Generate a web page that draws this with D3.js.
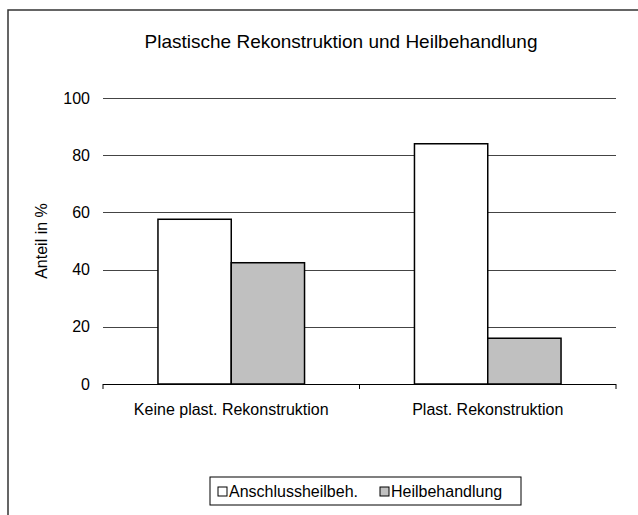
<!DOCTYPE html>
<html>
<head>
<meta charset="utf-8">
<script src="https://cdn.jsdelivr.net/npm/d3@7"></script>
<style>
  body { margin: 0; background: #fff; }
  svg { display: block; font-family: "Liberation Sans", Arial, sans-serif; }
</style>
</head>
<body>
<svg width="638" height="515"></svg>
<script>
const categories = ["Keine plast. Rekonstruktion", "Plast. Rekonstruktion"];
const seriesNames = ["Anschlussheilbeh.", "Heilbehandlung"];
const anschluss = [57.6, 84.0];
const heil = [42.4, 16.0];
const yTicks = [0, 20, 40, 60, 80, 100];
const colours = ["#ffffff", "#c0c0c0"];

const svg = d3.select("svg");

// chart frame (right and bottom fall outside the picture)
svg.append("rect")
  .attr("x", 8).attr("y", 10)
  .attr("width", 700).attr("height", 600)
  .attr("fill", "none").attr("stroke", "#333").attr("stroke-width", 1.5);

const plot = { left: 103, right: 616, top: 98, bottom: 384 };

const x = d3.scaleBand().domain(categories).range([plot.left, plot.right]);
const y = d3.scaleLinear().domain([0, 100]).range([plot.bottom, plot.top]);
// gap width 150%: band = 2 bars + 1.5 bar
const barW = x.bandwidth() / 3.5;
const xs = d3.scaleBand().domain(seriesNames).range([0, barW * 2]);

// title
svg.append("text")
  .attr("x", 341).attr("y", 48)
  .attr("text-anchor", "middle")
  .style("font-size", "19px")
  .text("Plastische Rekonstruktion und Heilbehandlung");

// gridlines
svg.append("g")
  .selectAll("line")
  .data(yTicks.filter((d) => d > 0))
  .join("line")
  .attr("x1", plot.left).attr("x2", plot.right)
  .attr("y1", (d) => Math.round(y(d)) + 0.5)
  .attr("y2", (d) => Math.round(y(d)) + 0.5)
  .attr("stroke", "#444").attr("stroke-width", 1);

// y tick labels
svg.append("g")
  .selectAll("text")
  .data(yTicks)
  .join("text")
  .attr("x", 90)
  .attr("y", (d) => y(d))
  .attr("dy", "0.35em")
  .attr("text-anchor", "end")
  .style("font-size", "16px")
  .text((d) => d);

// y axis title
svg.append("text")
  .attr("transform", "translate(47,241) rotate(-90)")
  .attr("text-anchor", "middle")
  .style("font-size", "16px")
  .text("Anteil in %");

// bars
const data = categories.map((c, i) => ({ cat: c, vals: [anschluss[i], heil[i]] }));
const groups = svg.append("g")
  .selectAll("g")
  .data(data)
  .join("g")
  .attr("transform", (d) => `translate(${x(d.cat) + barW * 0.75},0)`);

groups.selectAll("rect")
  .data((d) => d.vals.map((v, j) => ({ name: seriesNames[j], v: v, j: j })))
  .join("rect")
  .attr("x", (d) => xs(d.name))
  .attr("y", (d) => y(d.v))
  .attr("width", barW)
  .attr("height", (d) => y(0) - y(d.v))
  .attr("fill", (d) => colours[d.j])
  .attr("stroke", "#000").attr("stroke-width", 1.5);

// x axis
const xAxis = svg.append("g");
xAxis.append("line")
  .attr("x1", plot.left).attr("x2", plot.right)
  .attr("y1", plot.bottom + 0.5).attr("y2", plot.bottom + 0.5)
  .attr("stroke", "#000");
xAxis.selectAll("line.tick")
  .data([plot.left, x(categories[1]), plot.right])
  .join("line")
  .attr("class", "tick")
  .attr("x1", (d) => d).attr("x2", (d) => d)
  .attr("y1", plot.bottom).attr("y2", plot.bottom + 5)
  .attr("stroke", "#000");
xAxis.selectAll("text")
  .data(categories)
  .join("text")
  .attr("x", (d) => x(d) + x.bandwidth() / 2)
  .attr("y", 415)
  .attr("text-anchor", "middle")
  .style("font-size", "16px")
  .text((d) => d);

// legend
const legend = svg.append("g").attr("transform", "translate(210,477)");
legend.append("rect")
  .attr("width", 311).attr("height", 28)
  .attr("fill", "#fff").attr("stroke", "#000");
const items = [
  { name: seriesNames[0], c: colours[0], x: 8 },
  { name: seriesNames[1], c: colours[1], x: 170 }
];
const li = legend.selectAll("g.item").data(items).join("g")
  .attr("class", "item")
  .attr("transform", (d) => `translate(${d.x},0)`);
li.append("rect")
  .attr("x", 0).attr("y", 10).attr("width", 9).attr("height", 9)
  .attr("fill", (d) => d.c).attr("stroke", "#000");
li.append("text")
  .attr("x", 11).attr("y", 20)
  .style("font-size", "16px")
  .text((d) => d.name);
</script>
</body>
</html>
